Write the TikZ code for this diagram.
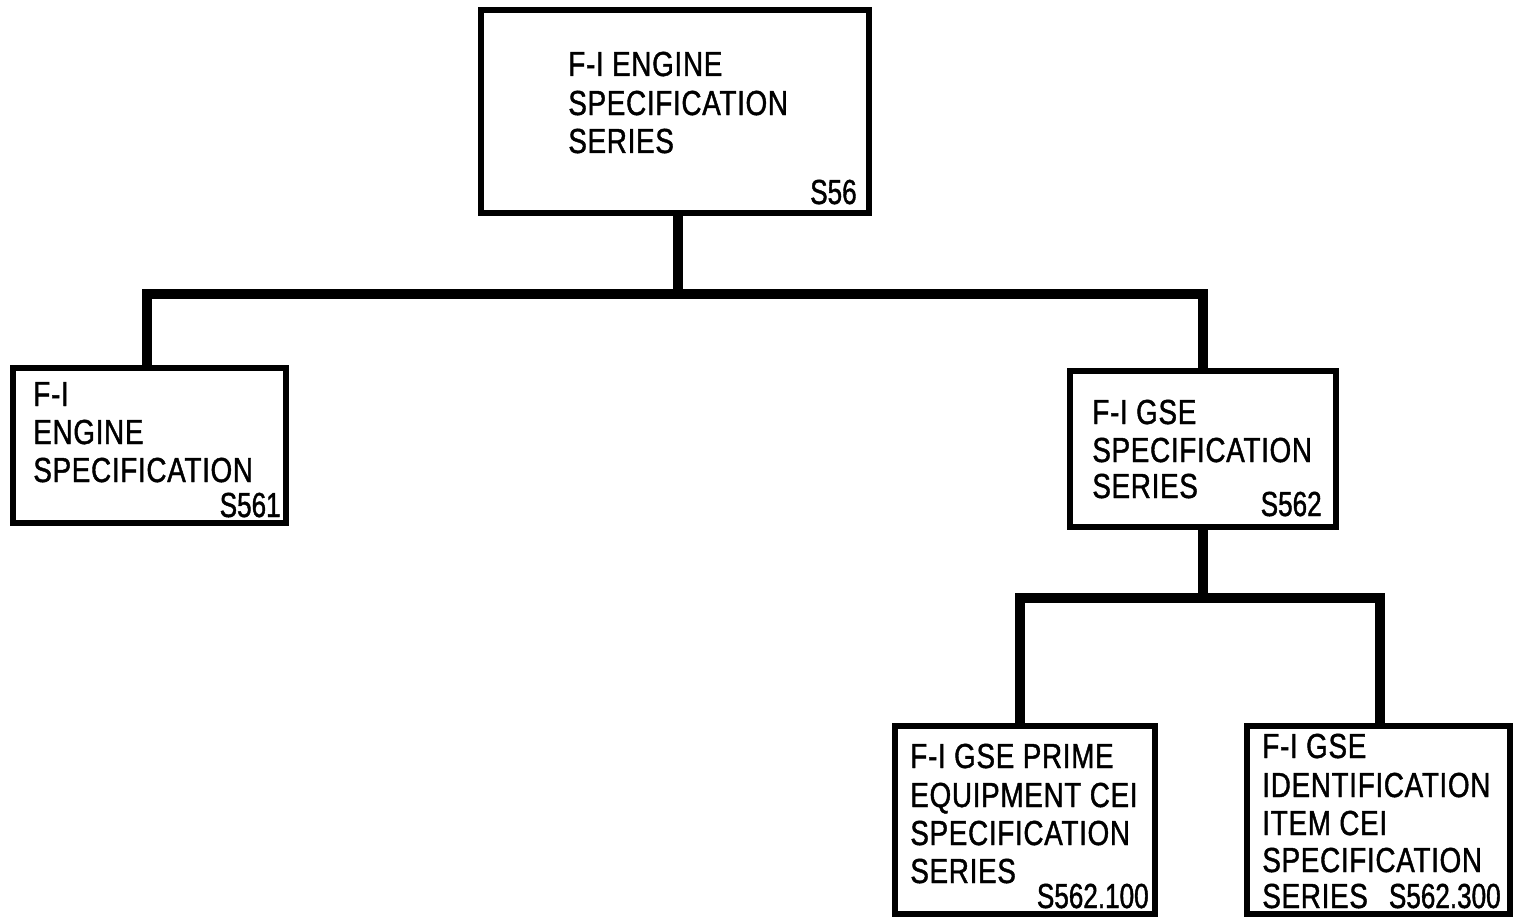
\documentclass[tikz,border=0pt]{standalone}
\usepackage{fontspec}
\newfontfamily\lblfont[FakeStretch=0.8,FakeBold=1.2,LetterSpace=2]{Liberation Sans}
\newfontfamily\codefont[FakeStretch=0.75,FakeBold=1.2,LetterSpace=0]{Liberation Sans}
\usetikzlibrary{fit}
\begin{document}
\begin{tikzpicture}[x=0.02cm,y=-0.02cm,
  box/.style={draw, line width=3.2pt, inner sep=0pt, rectangle},
  conn/.style={draw, line width=5.6pt, line join=miter},
  lbl/.style={anchor=base west, inner sep=0pt, font=\lblfont\fontsize{19.8}{21.6}\selectfont},
  code/.style={anchor=base east, inner sep=0pt, font=\codefont\fontsize{19.8}{21.6}\selectfont}]
\useasboundingbox (0,0) rectangle (1515,919);
% boxes
\node[box, fit={(481,10) (869,213)}] (top) {};
\node[box, fit={(13,368) (286,523)}] (lb) {};
\node[box, fit={(1070,371) (1336,527)}] (rb) {};
\node[box, fit={(895,726) (1155,914)}] (bl) {};
\node[box, fit={(1247,726) (1510,914)}] (br) {};
% junctions
\coordinate (j1) at (678,294);
\coordinate (j2) at (1203,598);
\coordinate (tb) at (678,213);
\coordinate (lbt) at (147,368);
\coordinate (rbt) at (1203,371);
\coordinate (rbb) at (1203,527);
\coordinate (blt) at (1020,726);
\coordinate (brt) at (1380,726);
% connectors
\path[conn] (tb) -- (j1);
\path[conn] (lbt) |- (j1) -| (rbt);
\path[conn] (rbb) -- (j2);
\path[conn] (blt) |- (j2) -| (brt);
% texts top
\node[lbl] (t1) at (568,76) {F-I ENGINE};
\node[lbl] (t2) at (568,115) {SPECIFICATION};
\node[lbl] (t3) at (568,153) {SERIES};
\node[code] (t4) at (857,204) {S56};
% left
\node[lbl] (l1) at (33,406) {F-I};
\node[lbl] (l2) at (33,444) {ENGINE};
\node[lbl] (l3) at (33,482) {SPECIFICATION};
\node[code] (l4) at (281,517) {S561};
% right mid
\node[lbl] (r1) at (1092,424) {F-I GSE};
\node[lbl] (r2) at (1092,462) {SPECIFICATION};
\node[lbl] (r3) at (1092,498) {SERIES};
\node[code] (r4) at (1322,516) {S562};
% bottom left
\node[lbl] (b1) at (910,768) {F-I GSE PRIME};
\node[lbl] (b2) at (910,807) {EQUIPMENT CEI};
\node[lbl] (b3) at (910,845) {SPECIFICATION};
\node[lbl] (b4) at (910,883) {SERIES};
\node[code] (b5) at (1149,908) {S562.100};
% bottom right
\node[lbl] (c1) at (1262,758) {F-I GSE};
\node[lbl] (c2) at (1262,797) {IDENTIFICATION};
\node[lbl] (c3) at (1262,835) {ITEM CEI};
\node[lbl] (c4) at (1262,872) {SPECIFICATION};
\node[lbl] (c5) at (1262,908) {SERIES};
\node[code] (c6) at (1501,908) {S562.300};
\end{tikzpicture}
\end{document}
